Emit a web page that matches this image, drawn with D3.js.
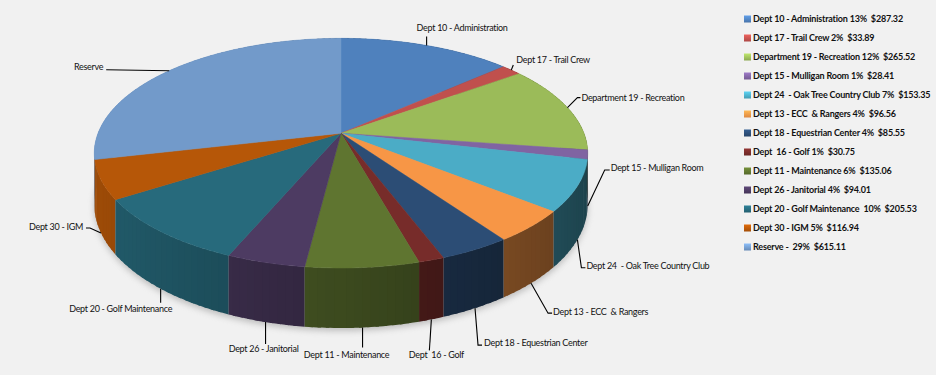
<html>
<head>
  <script src="https://cdnjs.cloudflare.com/ajax/libs/d3/7.8.5/d3.min.js"></script>
  <style>
  body{ margin:0; background:#f1f1f1; }
  text{ font-family: Lato, "Open Sans", sans-serif; white-space: pre; }
  </style>
</head>
<body>
  <script type="text/javascript">
    var width=936;
    var height=375;

    // data, clockwise from 12 o'clock
    var categories=["Dept 10 - Administration","Dept 17 - Trail Crew","Department 19 - Recreation",
      "Dept 15 - Mulligan Room","Dept 24  - Oak Tree Country Club","Dept 13 - ECC  & Rangers",
      "Dept 18 - Equestrian Center","Dept  16 - Golf","Dept 11 - Maintenance","Dept 26 - Janitorial",
      "Dept 20 - Golf Maintenance","Dept 30 - IGM","Reserve"];
    var legendNames=["Dept 10 - Administration","Dept 17 - Trail Crew","Department 19 - Recreation",
      "Dept 15 - Mulligan Room","Dept 24  - Oak Tree Country Club","Dept 13 - ECC  & Rangers",
      "Dept 18 - Equestrian Center","Dept  16 - Golf","Dept 11 - Maintenance","Dept 26 - Janitorial",
      "Dept 20 - Golf Maintenance ","Dept 30 - IGM","Reserve - "];
    var amounts=[287.32,33.89,265.52,28.41,153.35,96.56,85.55,30.75,135.06,94.01,205.53,116.94,615.11];
    var colors=["#4F81BD","#C0504D","#9BBB59","#8064A2","#4BACC6","#F79646",
      "#2C4D75","#772C2A","#5F7530","#4D3B62","#276A7C","#B65708","#729ACA"];

    // label layout: leader elbow offset from the slice anchor, short tail, text offset
    var leaderOff=[[0,-9],[2,-5],[10,-10],[17,-36],[4,28],[17,30],[3,37],[-2,31],[0,20],[0,22],[0,14],[-11,-5],[-63,-1]];
    var tailLen=[0,0,3,5,4,4,4,0,0,0,0,-4,0];
    var textOff=[[-10,-9,"start"],[3,-5,"start"],[1,0,"start"],[1,-2,"start"],[1,-2,"start"],[1,-1,"start"],
      [2,-2,"start"],[7,4,"middle"],[-16,7,"middle"],[-2,5,"middle"],[-40,6,"middle"],[-3,-1,"end"],[-3,-3,"end"]];

    // perspective disc
    var cx=341, cy=133.3, rx=243, ry=111.4, persp=0.173, depth=49.6;
    function proj(a,h){
      var u=Math.sin(a), v=-Math.cos(a), w=1-persp*v;
      return [cx+rx*u/w, cy+(ry*v+depth*h)/w];
    }
    function arcPoints(a0,a1,h){
      var n=Math.max(2,Math.ceil((a1-a0)/0.02)), pts=[];
      for(var i=0;i<=n;i++){ pts.push(proj(a0+(a1-a0)*i/n,h)); }
      return pts;
    }

    var svg=d3.select("body").append("svg")
              .attr("width",width)
              .attr("height",height);
    svg.append("rect").attr("width",width).attr("height",height).attr("fill","#f1f1f1");

    var defs=svg.append("defs");
    defs.append("filter").attr("id","shadow")
        .attr("x","-20%").attr("y","-20%").attr("width","140%").attr("height","140%")
        .append("feGaussianBlur").attr("stdDeviation",3);

    var arcs=d3.pie().sort(null).value(function(d){ return d; })(amounts);
    var line=d3.line();

    // shadow under the pie
    svg.append("path")
       .attr("d",line(arcPoints(0,2*Math.PI,1))+"Z")
       .attr("transform","translate(0,3)")
       .attr("fill","#8a8a8a")
       .attr("opacity",0.5)
       .attr("filter","url(#shadow)");

    // outer walls, split into thin overlapping pieces so the shading follows the angle
    var walls=[];
    arcs.forEach(function(d,i){
      var n=Math.max(1,Math.ceil((d.endAngle-d.startAngle)/0.03));
      for(var j=0;j<n;j++){
        var a0=d.startAngle+(d.endAngle-d.startAngle)*j/n;
        var a1=d.startAngle+(d.endAngle-d.startAngle)*(j+1)/n;
        var m=(a0+a1)/2;
        var f=0.63-0.25*Math.sin(m);
        var c=d3.rgb(colors[i]);
        var shade=d3.rgb(c.r*f,c.g*f,c.b*f);
        var b1=(j<n-1) ? a1+0.012 : a1;
        var pts=arcPoints(a0,b1,0).concat(arcPoints(a0,b1,1).reverse());
        walls.push({pts:pts,v:-Math.cos(m),color:shade});
      }
    });
    walls.sort(function(a,b){ return a.v-b.v; });
    svg.append("g").selectAll("path")
       .data(walls)
       .enter()
       .append("path")
       .attr("d",function(d){ return line(d.pts)+"Z"; })
       .attr("fill",function(d){ return d.color; });

    // top faces
    svg.append("g").selectAll("path")
       .data(arcs)
       .enter()
       .append("path")
       .attr("d",function(d){
         return line([[cx,cy]].concat(arcPoints(d.startAngle,d.endAngle,0)))+"Z";
       })
       .attr("fill",function(d,i){ return colors[i]; })
       .attr("stroke",function(d,i){ return colors[i]; })
       .attr("stroke-width",0.5);

    // data labels with leader lines
    var labels=svg.append("g");
    arcs.forEach(function(d,i){
      var m=(d.startAngle+d.endAngle)/2;
      var anchor=proj(m, -Math.cos(m)>0 ? 1 : 0);
      var elbow=[anchor[0]+leaderOff[i][0],anchor[1]+leaderOff[i][1]];
      var tail=[elbow[0]+tailLen[i],elbow[1]];
      labels.append("path")
            .attr("d",line([anchor,elbow,tail]))
            .attr("fill","none")
            .attr("stroke","#000")
            .attr("stroke-width",1.1);
      labels.append("text")
            .attr("x",tail[0]+textOff[i][0])
            .attr("y",tail[1]+textOff[i][1])
            .attr("dy","0.35em")
            .attr("text-anchor",textOff[i][2])
            .style("font-size","9px")
            .style("letter-spacing","-0.3px")
            .attr("fill","#111")
            .text(categories[i]);
    });

    // legend
    var total=d3.sum(amounts);
    var legend=svg.append("g").attr("transform","translate(744,19)");
    var grads=defs.selectAll("linearGradient")
       .data(colors)
       .enter()
       .append("linearGradient")
       .attr("id",function(d,i){ return "lg"+i; })
       .attr("x1",0).attr("y1",0).attr("x2",0).attr("y2",1);
    grads.append("stop").attr("offset","0%").attr("stop-color",function(d){ return d3.rgb(d).brighter(0.6); });
    grads.append("stop").attr("offset","100%").attr("stop-color",function(d){ return d3.rgb(d).darker(0.3); });

    var items=legend.selectAll("g")
       .data(amounts)
       .enter()
       .append("g")
       .attr("transform",function(d,i){ return "translate(0,"+(i*19)+")"; });
    items.append("rect")
       .attr("x",0)
       .attr("y",-3.5)
       .attr("width",7)
       .attr("height",7)
       .attr("fill",function(d,i){ return "url(#lg"+i+")"; });
    items.append("text")
       .attr("x",9)
       .attr("y",0)
       .attr("dy","0.35em")
       .style("font-size","9px")
       .style("font-weight","bold")
       .style("letter-spacing","-0.2px")
       .attr("fill","#111")
       .text(function(d,i){
         return legendNames[i]+" "+Math.round(d/total*100)+"%  $"+d.toFixed(2);
       });
  </script>
</body>
</html>
